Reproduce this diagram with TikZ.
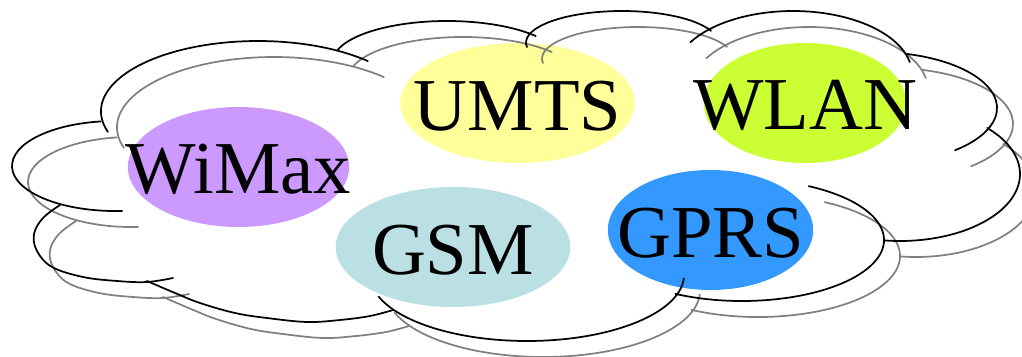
\documentclass[tikz,border=0pt]{standalone}
\usepackage{fontspec}
\setmainfont{Liberation Serif}
\usetikzlibrary{shapes.geometric}
\definecolor{wimaxfill}{HTML}{CC99FF}
\definecolor{umtsfill}{HTML}{FFFF99}
\definecolor{wlanfill}{HTML}{CCFF33}
\definecolor{gsmfill}{HTML}{BBE0E3}
\definecolor{gprsfill}{HTML}{3399FF}
\definecolor{rimgray}{HTML}{808080}
% one bump of the cloud: centre x, centre y, x radius, y radius, start angle, end angle
\newcommand\lobe[6]{\draw[rim] (#1,#2) ++(#5:#3 and #4) arc[start angle=#5,end angle=#6,x radius=#3,y radius=#4];}
% the whole outline of the cloud
\newcommand\cloudrim{%
  \lobe{115}{166}{103}{45}{-98}{-274}
  \lobe{258}{111.3}{157}{70.3}{163}{314.4}
  \lobe{447}{61.4}{114}{40.4}{196.4}{321.1}
  \lobe{622}{42.7}{96}{31.7}{172}{338}
  \lobe{793}{74.3}{119}{63.3}{210.4}{348.8}
  \lobe{875}{108}{122}{56}{-75}{49}
  \lobe{900}{174}{120}{67}{-43.4}{97.2}
  \lobe{742}{240}{142}{61}{-62}{118}
  \lobe{527}{275}{157}{66}{3}{161}
  \draw[rim] plot[smooth,tension=0.6] coordinates {(147,281) (175,293) (200,303) (235,313) (267,318) (307,322) (340,320) (370,316) (393,310)};
  \draw[rim] plot[smooth,tension=0.6] coordinates {(60,205) (43,218) (34,234) (37,251) (52,267) (83,277) (117,281) (147,282) (173,278)};
}
\begin{document}
\begin{tikzpicture}[x=0.75pt,y=-0.75pt,
  net/.style={ellipse, inner sep=0pt, minimum height=90pt},
  netname/.style={inner sep=0pt, yshift=-2pt, font=\fontsize{56}{62}\selectfont},
  rim/.style={line width=1.3pt, line cap=round}]
\useasboundingbox (0,0) rectangle (1022,357);

% the five networks
\node[net, fill=wimaxfill, minimum width=166pt] (wimax) at (238.5,167) {};
\node[net, fill=umtsfill, minimum width=176pt] (umts) at (517.5,103) {};
\node[net, fill=wlanfill, minimum width=152pt] (wlan) at (805,103) {};
\node[net, fill=gsmfill, minimum width=176pt] (gsm) at (453,247) {};
\node[net, fill=gprsfill, minimum width=154pt] (gprs) at (710.5,230) {};
\node[netname] (wimax-name) at (wimax) {WiMax};
\node[netname] (umts-name) at (umts) {UMTS};
\node[netname] (wlan-name) at (wlan) {WLAN};
\node[netname] (gsm-name) at (gsm) {GSM};
\node[netname] (gprs-name) at (gprs) {GPRS};

% shadow of the cloud, then the cloud itself
\begin{scope}[shift={(16,16)}, color=rimgray]
  \cloudrim
\end{scope}
\begin{scope}[color=black]
  \cloudrim
\end{scope}
\end{tikzpicture}
\end{document}
